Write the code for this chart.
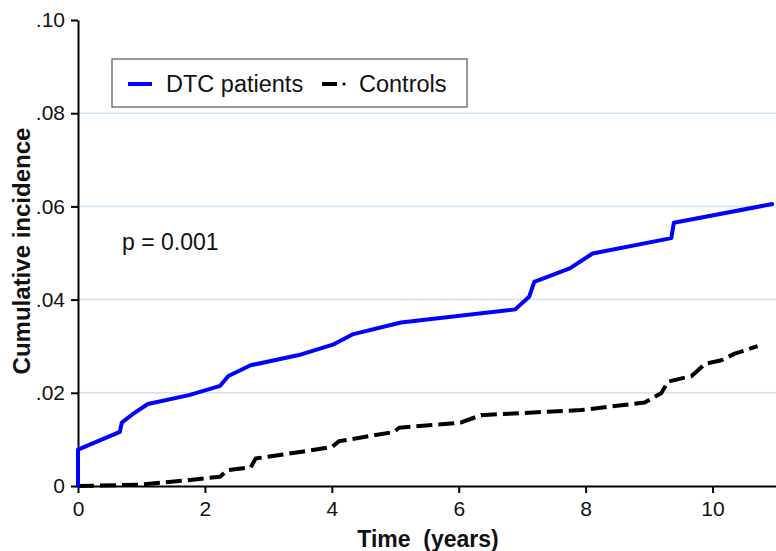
<!DOCTYPE html>
<html>
<head>
<meta charset="utf-8">
<script src="https://cdn.jsdelivr.net/npm/d3@7"></script>
<style>
  body { margin: 0; background: #fff; }
  svg { display: block; font-family: Arial, "Liberation Sans", sans-serif; }
</style>
</head>
<body>
<div id="chart"></div>
<script>
// DTC patients cumulative incidence (time in years, value)
const dtcTimes = [0, 0, 0.66, 0.69, 0.85, 1.1, 1.75, 2.24, 2.37, 2.72, 3.48, 4.03, 4.34, 5.09, 6.89, 7.11, 7.19, 7.75, 8.11, 9.35, 9.39, 10.94];
const dtcValues = [0, 0.0078, 0.0116, 0.0136, 0.0153, 0.0176, 0.0195, 0.0215, 0.0236, 0.0259, 0.0281, 0.0304, 0.0326, 0.0351, 0.0379, 0.0406, 0.0438, 0.0467, 0.0499, 0.0532, 0.0565, 0.0605];

// Controls
const ctrlTimes = [0, 1.0, 1.7, 2.24, 2.35, 2.72, 2.8, 3.5, 4.01, 4.11, 4.98, 5.06, 6.03, 6.35, 7.93, 8.93, 9.19, 9.3, 9.67, 9.88, 10.14, 10.35, 10.71];
const ctrlValues = [0, 0.0003, 0.0012, 0.002, 0.0034, 0.004, 0.0059, 0.0073, 0.0084, 0.0096, 0.0116, 0.0125, 0.0136, 0.0152, 0.0163, 0.0179, 0.0199, 0.0224, 0.0236, 0.0262, 0.027, 0.0284, 0.030];

const yTicks = [0, 0.02, 0.04, 0.06, 0.08, 0.10];
const yTickLabels = ["0", ".02", ".04", ".06", ".08", ".10"];
const xTicks = [0, 2, 4, 6, 8, 10];

const width = 776;
const height = 551;
const margin = { top: 20, right: 0, bottom: 65, left: 78 };

const svg = d3
  .select("#chart")
  .append("svg")
  .attr("width", width)
  .attr("height", height);

const xScale = d3
  .scaleLinear()
  .domain([0, 11])
  .range([margin.left, width - margin.right]);

const yScale = d3
  .scaleLinear()
  .domain([0, 0.1])
  .range([height - margin.bottom, margin.top]);

// grid lines
svg
  .append("g")
  .selectAll("line")
  .data(yTicks.filter((d) => d > 0 && d < 0.1))
  .enter()
  .append("line")
  .attr("x1", margin.left)
  .attr("x2", width)
  .attr("y1", (d) => yScale(d))
  .attr("y2", (d) => yScale(d))
  .attr("stroke", "#cfe2f6")
  .attr("stroke-width", 1.5);

// axes
const yAxis = svg
  .append("g")
  .attr("transform", `translate(${margin.left},0)`)
  .call(
    d3
      .axisLeft(yScale)
      .tickValues(yTicks)
      .tickFormat((d, i) => yTickLabels[i])
      .tickSize(7)
      .tickSizeOuter(0)
      .tickPadding(6)
  );

const xAxis = svg
  .append("g")
  .attr("transform", `translate(0,${yScale(0)})`)
  .call(
    d3
      .axisBottom(xScale)
      .tickValues(xTicks)
      .tickSize(7)
      .tickSizeOuter(0)
      .tickPadding(8)
  );

[xAxis, yAxis].forEach((ax) => {
  ax.select(".domain").attr("stroke", "#000").attr("stroke-width", 2);
  ax.selectAll(".tick line").attr("stroke", "#000").attr("stroke-width", 2);
  ax.selectAll(".tick text")
    .attr("fill", "#111")
    .style("font-size", "21px")
    .style("font-family", "Arial, 'Liberation Sans', sans-serif");
});

// curves
const line = d3
  .line()
  .x((d) => xScale(d[0]))
  .y((d) => yScale(d[1]));

const dtcData = dtcTimes.map((t, i) => [t, dtcValues[i]]);
const ctrlData = ctrlTimes.map((t, i) => [t, ctrlValues[i]]);

svg
  .append("path")
  .datum(ctrlData)
  .attr("d", line)
  .attr("fill", "none")
  .attr("stroke", "#000")
  .attr("stroke-width", 4)
  .attr("stroke-dasharray", "16,6")
  .attr("stroke-linejoin", "round");

svg
  .append("path")
  .datum(dtcData)
  .attr("d", line)
  .attr("fill", "none")
  .attr("stroke", "#0000ff")
  .attr("stroke-width", 4)
  .attr("stroke-linejoin", "round")
  .attr("stroke-linecap", "round");

// legend
const legend = svg.append("g");
legend
  .append("rect")
  .attr("x", 112)
  .attr("y", 59)
  .attr("width", 355)
  .attr("height", 48)
  .attr("fill", "#fff")
  .attr("stroke", "#555")
  .attr("stroke-width", 1.2);

legend
  .append("line")
  .attr("x1", 128)
  .attr("x2", 152)
  .attr("y1", 84)
  .attr("y2", 84)
  .attr("stroke", "#0000ff")
  .attr("stroke-width", 4);

legend
  .append("text")
  .attr("x", 166)
  .attr("y", 92)
  .style("font-size", "23.5px")
  .attr("fill", "#111")
  .text("DTC patients");

legend
  .append("line")
  .attr("x1", 322)
  .attr("x2", 337)
  .attr("y1", 84)
  .attr("y2", 84)
  .attr("stroke", "#000")
  .attr("stroke-width", 4);

legend
  .append("circle")
  .attr("cx", 344)
  .attr("cy", 84)
  .attr("r", 1.6)
  .attr("fill", "#000");

legend
  .append("text")
  .attr("x", 359)
  .attr("y", 92)
  .style("font-size", "23.5px")
  .attr("fill", "#111")
  .text("Controls");

// p value
svg
  .append("text")
  .attr("x", 122)
  .attr("y", 250)
  .style("font-size", "23px")
  .attr("fill", "#111")
  .text("p = 0.001");

// axis titles
svg
  .append("text")
  .attr("x", 428)
  .attr("y", 547)
  .attr("text-anchor", "middle")
  .style("font-size", "23px")
  .style("font-weight", "bold")
  .style("white-space", "pre")
  .attr("fill", "#111")
  .text("Time  (years)");

svg
  .append("text")
  .attr("transform", `translate(30, ${251})rotate(-90)`)
  .attr("text-anchor", "middle")
  .style("font-size", "24px")
  .style("font-weight", "bold")
  .attr("fill", "#111")
  .text("Cumulative incidence");
</script>
</body>
</html>
